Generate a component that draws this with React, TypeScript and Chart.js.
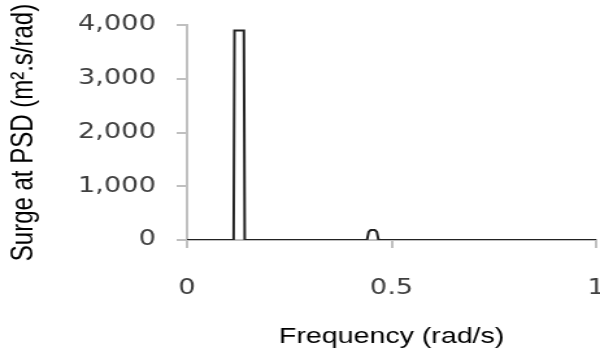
import React, { useEffect, useRef } from "react";
import { Chart, registerables } from "chart.js";

Chart.register(...registerables);

// Surge PSD spectrum: frequency (rad/s) against spectral density (m².s/rad)
const frequency = [0, 0.114, 0.116, 0.139, 0.141, 0.44, 0.444, 0.449, 0.459, 0.464, 0.468, 1.0];
const surgePsd = [0, 0, 3900, 3900, 0, 0, 150, 185, 185, 150, 0, 0];

const xTicks = [0, 0.5, 1];
const yTicks = [0, 1000, 2000, 3000, 4000];

const xTitle = "Frequency (rad/s)";
const yTitle = "Surge at PSD (m\u00b2.s/rad)";

// The drawing surface is rendered narrower and widened by CSS, giving the broad lettering.
const CANVAS_W = 462;
const CANVAS_H = 353;
const DISPLAY_W = 600;

const axisGrey = "#c0c0c0";

export default function App() {
  const canvasRef = useRef<HTMLCanvasElement | null>(null);

  useEffect(() => {
    const canvas = canvasRef.current;
    if (!canvas) return;

    const chart = new Chart(canvas, {
      type: "line",
      data: {
        datasets: [
          {
            data: frequency.map((f, i) => ({ x: f, y: surgePsd[i] })),
            borderColor: "#222222",
            borderWidth: 2,
            pointRadius: 0,
            tension: 0,
            fill: false,
          },
        ],
      },
      options: {
        animation: false,
        responsive: false,
        maintainAspectRatio: false,
        layout: { padding: { top: 25, left: 0, right: 0, bottom: 0 } },
        plugins: {
          legend: { display: false },
          tooltip: { enabled: false },
        },
        scales: {
          x: {
            type: "linear",
            min: 0,
            max: 1,
            afterBuildTicks: (scale: any) => {
              scale.ticks = xTicks.map((v) => ({ value: v }));
            },
            afterFit: (scale: any) => {
              scale.height = 113;
              scale.paddingRight = 3;
              scale.paddingLeft = 0;
            },
            ticks: {
              padding: 28,
              color: "#404040",
              font: { family: "DejaVu Sans", size: 21 },
              callback: (v: any) => String(v),
            },
            grid: {
              drawOnChartArea: false,
              drawTicks: true,
              tickLength: 8,
              color: axisGrey,
              lineWidth: 2,
            },
            border: { color: axisGrey, width: 2 },
            title: {
              display: true,
              text: xTitle,
              color: "#000",
              font: { family: "Liberation Sans", size: 22 },
              padding: { top: 0, bottom: 3 },
            },
          },
          y: {
            type: "linear",
            min: 0,
            max: 4000,
            afterBuildTicks: (scale: any) => {
              scale.ticks = yTicks.map((v) => ({ value: v }));
            },
            afterFit: (scale: any) => {
              scale.width = 144;
              scale.paddingTop = 0;
              scale.paddingBottom = 0;
            },
            ticks: {
              padding: 16,
              color: "#404040",
              font: { family: "DejaVu Sans", size: 21 },
              callback: (v: any) => Number(v).toLocaleString("en-US"),
            },
            grid: {
              drawOnChartArea: false,
              drawTicks: true,
              tickLength: 8,
              color: axisGrey,
              lineWidth: 2,
            },
            border: { color: axisGrey, width: 2 },
            title: {
              display: true,
              text: yTitle,
              color: "#000",
              font: { family: "Liberation Sans", size: 24 },
              padding: { top: 4, bottom: 0 },
            },
          },
        },
      },
    });

    return () => chart.destroy();
  }, []);

  return (
    <div style={{ position: "fixed", left: 0, top: 0, width: DISPLAY_W, height: CANVAS_H, background: "#fff" }}>
      <canvas
        ref={canvasRef}
        width={CANVAS_W}
        height={CANVAS_H}
        style={{ display: "block", width: `${DISPLAY_W}px`, height: `${CANVAS_H}px` }}
      />
    </div>
  );
}
